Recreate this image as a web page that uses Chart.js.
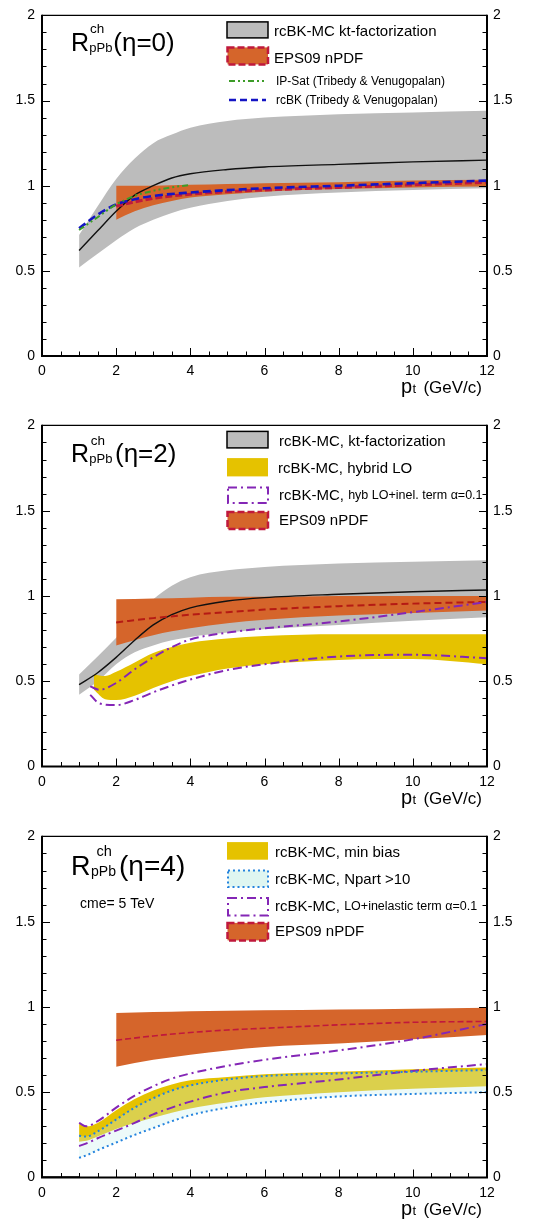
<!DOCTYPE html>
<html><head><meta charset="utf-8">
<script src="https://cdn.jsdelivr.net/npm/chart.js@4.4.1/dist/chart.umd.min.js"></script>
<style>
html,body{margin:0;padding:0;background:#fff;width:544px;height:1220px;overflow:hidden;position:relative;}
canvas{position:absolute;left:0;}
</style></head><body>
<canvas id="c1" width="544" height="404" style="top:0px;width:544px;height:404px"></canvas>
<canvas id="c2" width="544" height="411" style="top:410px;width:544px;height:411px"></canvas>
<canvas id="c3" width="544" height="399" style="top:821px;width:544px;height:399px"></canvas>
<script>
const FONT = "'Liberation Sans', Arial, Helvetica, sans-serif";

// ---------- Panel 1 (eta = 0) ----------
const p1KtX   = [1, 1.5, 2, 2.5, 3, 3.5, 4, 5, 6, 8, 10, 12];
const p1KtLo  = [0.52, 0.60, 0.68, 0.75, 0.80, 0.84, 0.87, 0.91, 0.935, 0.96, 0.975, 0.985];
const p1KtHi  = [0.71, 0.88, 1.04, 1.16, 1.25, 1.30, 1.34, 1.38, 1.40, 1.42, 1.43, 1.44];
const p1KtMid = [0.62, 0.735, 0.85, 0.945, 1.00, 1.045, 1.07, 1.095, 1.11, 1.125, 1.14, 1.15];
const p1EpsX   = [2, 2.5, 3, 3.5, 4, 5, 6, 8, 10, 12];
const p1EpsLo  = [0.80, 0.85, 0.885, 0.91, 0.93, 0.95, 0.965, 0.98, 0.99, 0.995];
const p1EpsHi  = [1.0, 1.0, 1.0, 1.002, 1.005, 1.01, 1.015, 1.02, 1.03, 1.035];
const p1EpsMid = [0.88, 0.905, 0.925, 0.94, 0.95, 0.965, 0.975, 0.99, 1.005, 1.02];
const p1IpX = [1, 1.5, 2, 2.5, 3, 3.5, 4];
const p1IpY = [0.74, 0.815, 0.89, 0.94, 0.97, 0.99, 1.005];
const p1TvX = [1, 1.5, 2, 2.5, 3, 4, 6, 8, 10, 12];
const p1TvY = [0.75, 0.83, 0.89, 0.92, 0.94, 0.96, 0.985, 1.0, 1.015, 1.03];

// ---------- Panel 2 (eta = 2) ----------
const p2KtX   = [1, 1.5, 2, 2.5, 3, 3.5, 4, 5, 6, 8, 10, 12];
const p2KtLo  = [0.42, 0.50, 0.60, 0.67, 0.71, 0.74, 0.76, 0.785, 0.805, 0.83, 0.855, 0.875];
const p2KtHi  = [0.54, 0.645, 0.755, 0.865, 0.98, 1.06, 1.11, 1.15, 1.17, 1.19, 1.20, 1.21];
const p2KtMid = [0.48, 0.55, 0.64, 0.74, 0.83, 0.89, 0.93, 0.97, 0.99, 1.01, 1.025, 1.035];
const p2EpsX   = [2, 3, 4, 5, 6, 8, 10, 12];
const p2EpsLo  = [0.71, 0.77, 0.81, 0.84, 0.86, 0.885, 0.90, 0.915];
const p2EpsHi  = [0.98, 0.985, 0.99, 0.995, 0.995, 1.0, 1.0, 1.0];
const p2EpsMid = [0.845, 0.87, 0.89, 0.905, 0.92, 0.94, 0.955, 0.965];
const p2HybX  = [1.4, 1.7, 2, 2.5, 3, 3.5, 4, 5, 6, 8, 10, 12];
const p2HybLo = [0.45, 0.395, 0.39, 0.415, 0.46, 0.50, 0.53, 0.575, 0.60, 0.625, 0.63, 0.60];
const p2HybHi = [0.54, 0.53, 0.555, 0.61, 0.665, 0.70, 0.725, 0.75, 0.765, 0.775, 0.775, 0.775];
const p2InelX  = [1.3, 1.55, 2, 2.5, 3, 3.5, 4, 5, 6, 8, 10, 12];
const p2InelHi = [0.47, 0.45, 0.49, 0.57, 0.64, 0.70, 0.745, 0.785, 0.81, 0.85, 0.905, 0.965];
const p2InelLo = [0.42, 0.37, 0.36, 0.39, 0.435, 0.475, 0.51, 0.565, 0.60, 0.645, 0.655, 0.635];

// ---------- Panel 3 (eta = 4) ----------
const p3EpsX   = [2, 3, 4, 5, 6, 8, 10, 12];
const p3EpsLo  = [0.65, 0.69, 0.72, 0.745, 0.765, 0.785, 0.81, 0.835];
const p3EpsHi  = [0.965, 0.97, 0.975, 0.978, 0.98, 0.985, 0.99, 0.995];
const p3EpsMid = [0.805, 0.83, 0.85, 0.865, 0.875, 0.895, 0.91, 0.915];
const p3X      = [1, 1.2, 1.5, 2, 2.5, 3, 3.5, 4, 5, 6, 8, 10, 12];
const p3MbHi   = [0.315, 0.30, 0.32, 0.395, 0.46, 0.51, 0.545, 0.57, 0.59, 0.605, 0.62, 0.635, 0.645];
const p3MbLo   = [0.21, 0.215, 0.24, 0.285, 0.32, 0.35, 0.38, 0.405, 0.44, 0.47, 0.50, 0.52, 0.535];
const p3NpHi   = [0.245, 0.24, 0.27, 0.34, 0.41, 0.465, 0.51, 0.54, 0.575, 0.595, 0.61, 0.62, 0.63];
const p3NpLo   = [0.115, 0.13, 0.16, 0.205, 0.25, 0.29, 0.33, 0.365, 0.41, 0.44, 0.475, 0.49, 0.50];
const p3InelHi = [0.32, 0.30, 0.33, 0.41, 0.48, 0.535, 0.58, 0.61, 0.655, 0.69, 0.745, 0.81, 0.90];
const p3InelLo = [0.185, 0.20, 0.23, 0.275, 0.32, 0.37, 0.41, 0.445, 0.50, 0.53, 0.575, 0.625, 0.665];
const p3BaseX = [0, 1];
const p3BaseY = [0, 0];

// ---------- axis ticks ----------
const xTickStep = 2, yTickStep = 0.5;

// ---------- colours ----------
const GRAY = '#bcbcbc', ORANGE = '#d5652b', CRIMSON = '#c0183c', YELLOW = '#e5c200',
      PURPLE = '#8426b6', CYANFILL = 'rgba(200,240,235,0.32)', DOTBLUE = '#2483de',
      GREEN = '#3c9c28', NAVY = '#1414c4', DARKRED = '#b51a14';

function pts(xs, ys){ return xs.map((x,i)=>({x:x, y:ys[i]})); }
function band(list, xs, lo, hi, color){
  list.push({data: pts(xs,lo), borderWidth:0, borderColor:'rgba(0,0,0,0)', pointRadius:0, fill:false, cubicInterpolationMode:'monotone'});
  list.push({data: pts(xs,hi), borderWidth:0, borderColor:'rgba(0,0,0,0)', pointRadius:0, fill:'-1', backgroundColor:color, cubicInterpolationMode:'monotone'});
}
function line(list, xs, ys, color, width, dash){
  list.push({data: pts(xs,ys), borderColor:color, borderWidth:width, borderDash:dash||[], pointRadius:0, fill:false, cubicInterpolationMode:'monotone', borderCapStyle:'butt'});
}
function finish(list){ list.forEach((d,i)=>{ d.order = list.length - i; }); return list; }

const ds1 = [];
band(ds1, p1KtX, p1KtLo, p1KtHi, GRAY);
band(ds1, p1EpsX, p1EpsLo, p1EpsHi, ORANGE);
line(ds1, p1KtX, p1KtMid, '#111', 1.4);
line(ds1, p1EpsX, p1EpsMid, CRIMSON, 3, [7,3]);
line(ds1, p1TvX, p1TvY, NAVY, 2.6, [8,4]);
line(ds1, p1IpX, p1IpY, GREEN, 2, [6,3,2,3,2,3]);

const ds2 = [];
band(ds2, p2KtX, p2KtLo, p2KtHi, GRAY);
band(ds2, p2EpsX, p2EpsLo, p2EpsHi, ORANGE);
band(ds2, p2HybX, p2HybLo, p2HybHi, YELLOW);
line(ds2, p2KtX, p2KtMid, '#111', 1.4);
line(ds2, p2EpsX, p2EpsMid, DARKRED, 2, [7,4]);
line(ds2, p2InelX, p2InelHi, PURPLE, 2, [9,4,2,4]);
line(ds2, p2InelX, p2InelLo, PURPLE, 2, [9,4,2,4]);

const ds3 = [];
band(ds3, p3EpsX, p3EpsLo, p3EpsHi, ORANGE);
band(ds3, p3X, p3MbLo, p3MbHi, YELLOW);
band(ds3, p3X, p3NpLo, p3NpHi, CYANFILL);
line(ds3, p3X, p3InelHi, PURPLE, 2, [9,4,2,4]);
line(ds3, p3X, p3InelLo, PURPLE, 2, [9,4,2,4]);
line(ds3, p3X, p3NpHi, DOTBLUE, 2, [2,3]);
line(ds3, p3X, p3NpLo, DOTBLUE, 2, [2,3]);
line(ds3, p3EpsX, p3EpsMid, CRIMSON, 1.6, [6,3]);
line(ds3, p3BaseX, p3BaseY, '#000', 2.5);

// ---------- drawing helpers ----------
function box(ctx, x, y, w, h, fill, stroke, lw, dash){
  ctx.save();
  if (fill){ ctx.fillStyle = fill; ctx.fillRect(x, y, w, h); }
  if (stroke){ ctx.strokeStyle = stroke; ctx.lineWidth = lw; ctx.setLineDash(dash||[]); ctx.strokeRect(x, y, w, h); }
  ctx.restore();
}
function seg(ctx, x1, x2, y, color, lw, dash){
  ctx.save(); ctx.strokeStyle = color; ctx.lineWidth = lw; ctx.setLineDash(dash||[]);
  ctx.beginPath(); ctx.moveTo(x1, y); ctx.lineTo(x2, y); ctx.stroke(); ctx.restore();
}
function txt(ctx, s, x, y, size){
  ctx.font = size + 'px ' + FONT; ctx.fillStyle = '#000';
  ctx.textAlign = 'left'; ctx.textBaseline = 'middle'; ctx.fillText(s, x, y);
  return ctx.measureText(s).width;
}
function title(ctx, a, eta, k, rel, xs){
  const b = a.top + rel;
  ctx.save(); ctx.fillStyle = '#000'; ctx.textAlign = 'left'; ctx.textBaseline = 'alphabetic';
  ctx.font = (25*k) + 'px ' + FONT; ctx.fillText('R', xs[0], b);
  ctx.font = (13.5*k) + 'px ' + FONT; ctx.fillText('ch', xs[1], b - 17.6*k);
  ctx.font = (13*k) + 'px ' + FONT; ctx.fillText('pPb', xs[2], b + 1);
  ctx.font = (26*k) + 'px ' + FONT; ctx.fillText('(\u03b7=' + eta + ')', xs[3], b);
  ctx.restore();
}
function xTitle(ctx, a){
  const b = a.bottom + 37;
  ctx.save(); ctx.fillStyle = '#000'; ctx.textBaseline = 'alphabetic'; ctx.textAlign = 'left';
  ctx.font = '17px ' + FONT;
  const w = ctx.measureText('(GeV/c)').width;
  const x3 = 482 - w;
  ctx.fillText('(GeV/c)', x3, b);
  ctx.font = '13px ' + FONT; ctx.fillText('t', x3 - 11, b);
  ctx.font = '20px ' + FONT; ctx.fillText('p', x3 - 22.5, b);
  ctx.restore();
}
function mixed(ctx, a, b, x, y){
  const w = txt(ctx, a, x, y, 15);
  txt(ctx, b, x + w, y + 0.5, 12.5);
}

const DRAWERS = {
  c1(ctx, a){
    title(ctx, a, 0, 1, 35.6, [71, 90, 89.3, 113.3]);
    const t = a.top;
    box(ctx, 227, t+6.5, 41, 16, GRAY, '#000', 1.5);
    txt(ctx, 'rcBK-MC kt-factorization', 274, t+16.5, 15);
    box(ctx, 227.5, t+32, 40.5, 17, ORANGE, CRIMSON, 2.5, [7,3]);
    txt(ctx, 'EPS09 nPDF', 274, t+43.5, 15);
    seg(ctx, 229, 266, t+65.5, GREEN, 2, [6,3,2,3,2,3]);
    txt(ctx, 'IP-Sat (Tribedy & Venugopalan)', 276, t+66, 12);
    seg(ctx, 229, 266, t+84.5, NAVY, 2.5, [7,4]);
    txt(ctx, 'rcBK (Tribedy & Venugopalan)', 276, t+85, 12);
    xTitle(ctx, a);
  },
  c2(ctx, a){
    title(ctx, a, 2, 1, 37, [71, 90.7, 89.3, 115]);
    const t = a.top;
    box(ctx, 227, t+6, 41, 16.5, GRAY, '#000', 1.5);
    txt(ctx, 'rcBK-MC, kt-factorization', 279, t+16.5, 15);
    box(ctx, 227, t+32.7, 41, 18.3, YELLOW);
    txt(ctx, 'rcBK-MC, hybrid LO', 278, t+43, 15);
    box(ctx, 228, t+62, 40, 15.7, '#fff', PURPLE, 2, [9,4,2,4]);
    mixed(ctx, 'rcBK-MC, ', 'hyb LO+inel. term \u03b1=0.1', 279, t+70);
    box(ctx, 227.5, t+86.5, 40.5, 17, ORANGE, CRIMSON, 2.5, [7,3]);
    txt(ctx, 'EPS09 nPDF', 279, t+95.5, 15);
    xTitle(ctx, a);
  },
  c3(ctx, a){
    title(ctx, a, 4, 1.08, 38.3, [71, 96.5, 91, 119]);
    const t = a.top;
    txt(ctx, 'cme= 5 TeV', 80, t+67.5, 14);
    box(ctx, 227, t+5.7, 41, 17.6, YELLOW);
    txt(ctx, 'rcBK-MC, min bias', 275, t+16, 15);
    box(ctx, 228, t+34, 40, 16.5, '#dff6f1', DOTBLUE, 2, [2,3]);
    txt(ctx, 'rcBK-MC, Npart >10', 275, t+43, 15);
    box(ctx, 228, t+61.5, 40, 17.5, '#fff', PURPLE, 2, [9,4,2,4]);
    mixed(ctx, 'rcBK-MC, ', 'LO+inelastic term \u03b1=0.1', 275, t+70);
    box(ctx, 227.5, t+86.5, 40.5, 17.5, ORANGE, CRIMSON, 2.5, [7,3]);
    txt(ctx, 'EPS09 nPDF', 275, t+95.5, 15);
    xTitle(ctx, a);
  }
};

const frame = {
  id: 'frame',
  afterDatasetsDraw(chart){
    const ctx = chart.ctx, a = chart.chartArea, xs = chart.scales.x, ys = chart.scales.y;
    ctx.save();
    ctx.strokeStyle = '#000'; ctx.lineWidth = 1;
    for (let i = 1; i < 20; i++){
      const py = Math.round(ys.getPixelForValue(i/10)) + 0.5;
      const L = (i % 5 === 0) ? 8 : 4.5;
      ctx.beginPath(); ctx.moveTo(a.left, py); ctx.lineTo(a.left + L, py);
      ctx.moveTo(a.right, py); ctx.lineTo(a.right - L, py); ctx.stroke();
    }
    for (let i = 1; i < 24; i++){
      const px = Math.round(xs.getPixelForValue(i/2)) + 0.5;
      const L = (i % 4 === 0) ? 8 : 4.5;
      ctx.beginPath(); ctx.moveTo(px, a.bottom); ctx.lineTo(px, a.bottom - L); ctx.stroke();
    }
    ctx.lineWidth = 1.3;
    ctx.beginPath(); ctx.moveTo(a.left, a.top); ctx.lineTo(a.right, a.top); ctx.stroke();
    ctx.lineWidth = 2;
    ctx.beginPath(); ctx.moveTo(a.left, a.top - 0.6); ctx.lineTo(a.left, a.bottom);
    ctx.lineTo(a.right, a.bottom); ctx.lineTo(a.right, a.top - 0.6); ctx.stroke();
    ctx.restore();
    const d = DRAWERS[chart.canvas.id];
    if (d) d(ctx, a);
  }
};

const fmtTick = v => String(Math.round(v * 10) / 10);

function makeChart(id, datasets, xh){
  const tickFont = {family: FONT, size: 14};
  return new Chart(document.getElementById(id), {
    type: 'line',
    data: { datasets: finish(datasets) },
    options: {
      responsive: false, animation: false, devicePixelRatio: 1,
      layout: { padding: { top: 14, left: 0, right: 0, bottom: 0 } },
      plugins: { legend: {display:false}, tooltip: {enabled:false}, title: {display:false} },
      elements: { line: { tension: 0 } },
      scales: {
        x: { type:'linear', min:0, max:12, position:'bottom',
             ticks:{ stepSize:xTickStep, font:tickFont, color:'#000', padding:7, maxRotation:0, autoSkip:false, callback: fmtTick },
             grid:{ display:false, drawTicks:false }, border:{ display:false },
             afterFit: s => { s.height = xh; } },
        y: { type:'linear', min:0, max:2, position:'left',
             ticks:{ stepSize:yTickStep, font:tickFont, color:'#000', padding:7, callback: fmtTick },
             grid:{ display:false, drawTicks:false }, border:{ display:false },
             afterFit: s => { s.width = 42; } },
        y2:{ type:'linear', min:0, max:2, position:'right',
             ticks:{ stepSize:yTickStep, font:tickFont, color:'#000', padding:6, callback: fmtTick },
             grid:{ display:false, drawTicks:false }, border:{ display:false },
             afterFit: s => { s.width = 57; } }
      }
    },
    plugins: [frame]
  });
}

makeChart('c1', ds1, 404 - 14 - 342);
makeChart('c2', ds2, 411 - 14 - 342.5);
makeChart('c3', ds3, 399 - 14 - 342.5);
</script>
</body></html>
